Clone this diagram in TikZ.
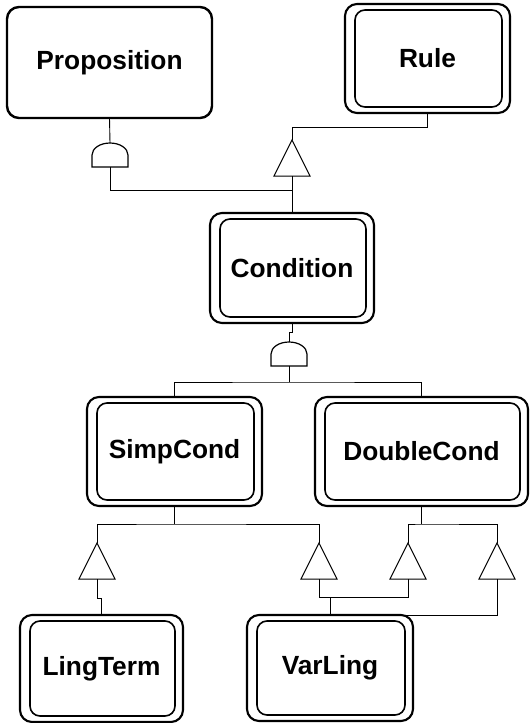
\documentclass[tikz,border=0pt]{standalone}
\usepackage{fontspec}
\setmainfont{Liberation Sans}
\usetikzlibrary{calc}

\tikzset{
  conn/.style={line width=0.9pt},
  boxlabel/.style={font=\fontsize{26.3}{30}\selectfont\bfseries},
  outerbox/.style={boxlabel, draw, line width=2.1pt, rounded corners=12pt,
                   outer sep=0pt, inner sep=0pt},
  innerbox/.style={line width=1.6pt, rounded corners=10pt},
  % inheritance triangle, apex up; coordinates -top and -bot
  inhtri/.pic={
    \draw[line width=1pt, fill=white] (-18,36) -- (0,0) -- (18,36) -- cycle;
    \coordinate (-top) at (0,0);
    \coordinate (-bot) at (0,36);
  },
  % aggregation gate: flat base, domed top
  aggate/.pic={
    \draw[line width=1.2pt, fill=white] (-18,24) -- (-18,12)
      arc[start angle=180, end angle=360, x radius=18, y radius=12] -- (18,24) -- cycle;
    \coordinate (-top) at (0,0);
    \coordinate (-bot) at (0,24);
  },
}

% double-bordered class box
\newcommand{\classbox}[6]{%
  \node[outerbox, minimum width=#4, minimum height=#5] (#1) at (#2,#3) {#6};
  \draw[innerbox] ([xshift=10pt,yshift=6pt]#1.south west)
    rectangle ([xshift=-8pt,yshift=-6pt]#1.north east);
}

\begin{document}
\begin{tikzpicture}[x=1pt,y=-1pt]
\useasboundingbox (0,0) rectangle (530,723);

% classes
\node[outerbox, line width=2.4pt, minimum width=205pt, minimum height=111pt]
  (prop) at (109.5,62.5) {Proposition};
\classbox{rule}{427.5}{58.5}{165pt}{109pt}{Rule}
\classbox{cond}{292}{268}{164pt}{110pt}{Condition}
\classbox{simp}{174.5}{451.5}{175pt}{109pt}{SimpCond}
\classbox{dbl}{421.5}{451.5}{213pt}{109pt}{DoubleCond}
\classbox{ling}{101.5}{668.5}{163pt}{107pt}{LingTerm}
\classbox{var}{330}{668}{166pt}{106pt}{VarLing}

% gates
\pic (g1) at (110,143) {aggate};
\pic (g2) at (289,342) {aggate};
\pic (t1) at (292,140) {inhtri};
\pic (t2) at (97,543) {inhtri};
\pic (t3) at (319,543) {inhtri};
\pic (t4) at (408,543) {inhtri};
\pic (t5) at (497,543) {inhtri};

% Proposition / Rule -> Condition
\draw[conn] (prop.south) -- (g1-top);
\draw[conn] (rule.south) -- ++(0,14) -| (t1-top);
\draw[conn] (t1-bot) -- (cond.north);
\coordinate (j1) at ($(t1-bot)!0.39!(cond.north)$);
\draw[conn] (g1-bot) |- (j1);

% Condition -> SimpCond / DoubleCond
\draw[conn] (cond.south) -- ++(0,9) -| (g2-top);
\draw[conn] (g2-bot) -- ++(0,16) coordinate (j2);
\draw[conn] (simp.north) |- (j2) -| (dbl.north);

% SimpCond -> LingTerm / VarLing
\draw[conn] (simp.south) -- ++(0,18) coordinate (j3);
\draw[conn] (t2-top) |- (j3) -| (t3-top);

% DoubleCond -> VarLing (twice)
\draw[conn] (dbl.south) -- ++(0,18) coordinate (j4);
\draw[conn] (t4-top) |- (j4) -| (t5-top);

% leaves
\draw[conn] (t2-bot) -- ++(0,19) -| (ling.north);
\draw[conn] (t3-bot) -- ++(0,18) coordinate (j5) -| (t4-bot);
\draw[conn] (var.north) -- (var.north |- j5);
\draw[conn] (t5-bot) |- ([xshift=-7pt]var.north east);
\end{tikzpicture}
\end{document}
